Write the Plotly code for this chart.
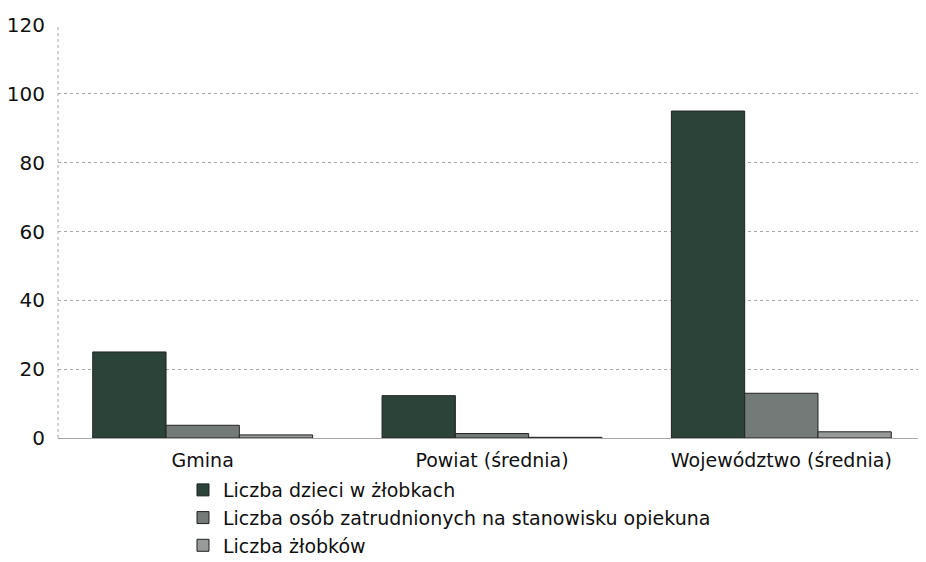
import plotly.graph_objects as go

CATEGORIES = ["Gmina", "Powiat (średnia)", "Województwo (średnia)"]
SERIES_NAMES = [
    "Liczba dzieci w żłobkach",
    "Liczba osób zatrudnionych na stanowisku opiekuna",
    "Liczba żłobków",
]
DZIECI = [25, 12.3, 95]
OPIEKUNOWIE = [3.7, 1.3, 13]
ZLOBKI = [0.9, 0.2, 1.8]

COLORS = ["#2c4339", "#747a77", "#979a99"]
FONT = "DejaVu Sans"

fig = go.Figure()
for name, values, color in zip(SERIES_NAMES, [DZIECI, OPIEKUNOWIE, ZLOBKI], COLORS):
    fig.add_trace(go.Bar(
        x=CATEGORIES,
        y=values,
        name=name,
        marker=dict(color=color, line=dict(color="#222222", width=1)),
    ))

# dotted left border of the plot area
fig.add_shape(
    type="line", xref="paper", yref="paper",
    x0=0, x1=0, y0=0, y1=1,
    line=dict(color="#a8a8a8", width=1, dash="dot"),
)

# the page body has an 8px margin, so the figure is a bit smaller than the window
fig.update_layout(
    barmode="group",
    bargap=0.24,
    bargroupgap=0,
    width=918,
    height=554,
    paper_bgcolor="white",
    plot_bgcolor="white",
    margin=dict(l=50, r=0, t=17, b=124, autoexpand=False),
    font=dict(family=FONT, size=19, color="#111111"),
    legend=dict(
        orientation="v",
        x=0.144,
        xanchor="left",
        y=-0.08,
        yanchor="top",
        font=dict(size=19),
        tracegroupgap=0,
    ),
    xaxis=dict(
        automargin=False,
        showgrid=False,
        showline=False,
        ticks="",
        tickfont=dict(size=19),
        ticklabelstandoff=9,
    ),
    yaxis=dict(
        automargin=False,
        range=[0, 120],
        dtick=20,
        showgrid=True,
        gridcolor="#a8a8a8",
        griddash="dot",
        gridwidth=1,
        zeroline=True,
        zerolinecolor="#a8a8a8",
        zerolinewidth=1,
        showline=False,
        ticks="",
        tickfont=dict(size=20),
        ticklabelstandoff=12,
    ),
)

fig.write_html("out.html")
